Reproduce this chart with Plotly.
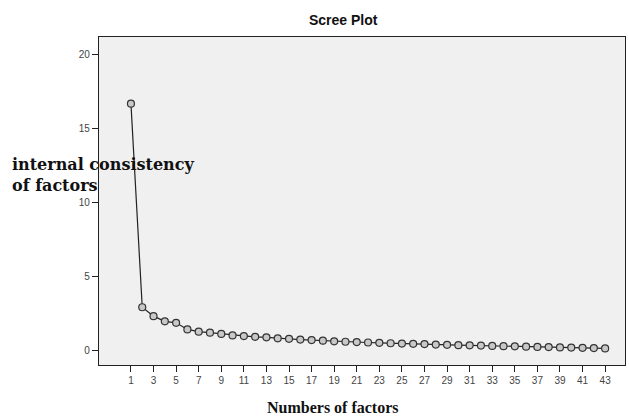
import plotly.graph_objects as go

factors = list(range(1, 44))
eigenvalues = [16.65, 2.9, 2.3, 1.95, 1.85, 1.4, 1.25, 1.18, 1.1, 1.0,
               0.95, 0.9, 0.87, 0.8, 0.77, 0.72, 0.68, 0.64, 0.6, 0.57,
               0.55, 0.52, 0.5, 0.47, 0.45, 0.43, 0.41, 0.38, 0.36, 0.34,
               0.33, 0.31, 0.29, 0.27, 0.26, 0.24, 0.22, 0.21, 0.19, 0.18,
               0.16, 0.14, 0.12]
x_ticks = list(range(1, 44, 2))
y_ticks = [0, 5, 10, 15, 20]

fig = go.Figure()
fig.add_trace(go.Scatter(
    x=factors, y=eigenvalues, mode="lines+markers",
    line=dict(color="#222222", width=1.2),
    marker=dict(symbol="circle", size=7, color="#c8c8c8",
                line=dict(color="#333333", width=1.2)),
    showlegend=False,
))

fig.update_layout(
    width=629, height=417,
    margin=dict(l=99, r=4, t=37, b=52),
    paper_bgcolor="white", plot_bgcolor="#f0f0f0",
    font=dict(family="Liberation Sans, Arial", size=10, color="#333333"),
    xaxis=dict(range=[-1.83, 44.76], tickmode="array", tickvals=x_ticks,
               ticks="outside", ticklen=6, tickcolor="#222", tickwidth=1.3,
               showgrid=False, zeroline=False, showline=True, linecolor="#222",
               linewidth=1.3, mirror=True, tickfont=dict(size=10, color="#444")),
    yaxis=dict(range=[-1.0, 21.15], tickmode="array", tickvals=y_ticks,
               ticks="outside", ticklen=6, tickcolor="#222", tickwidth=1.3,
               showgrid=False, zeroline=False, showline=True, linecolor="#222",
               linewidth=1.3, mirror=True, tickfont=dict(size=10, color="#444")),
    annotations=[
        dict(text="<b>Scree Plot</b>", xref="paper", yref="paper",
             x=(343 - 99) / 526, y=1, yshift=17, yanchor="middle", showarrow=False,
             font=dict(family="Liberation Sans, Arial", size=14, color="#111")),
        dict(text="<b>internal consistency<br>of factors</b>", xref="paper", yref="paper",
             x=-99 / 526 + 10 / 526, xanchor="left", y=(365 - 175) / 328, yanchor="middle",
             align="left", showarrow=False,
             font=dict(family="DejaVu Serif", size=16, color="#111")),
        dict(text="<b>Numbers of factors</b>", xref="paper", yref="paper",
             x=(333 - 99) / 526, y=0, yshift=-42, yanchor="middle", showarrow=False,
             font=dict(family="Liberation Serif, DejaVu Serif", size=16, color="#111")),
    ],
)

fig.write_html("out.html", config={"displayModeBar": False},
               post_script="document.body.style.margin='0';")
